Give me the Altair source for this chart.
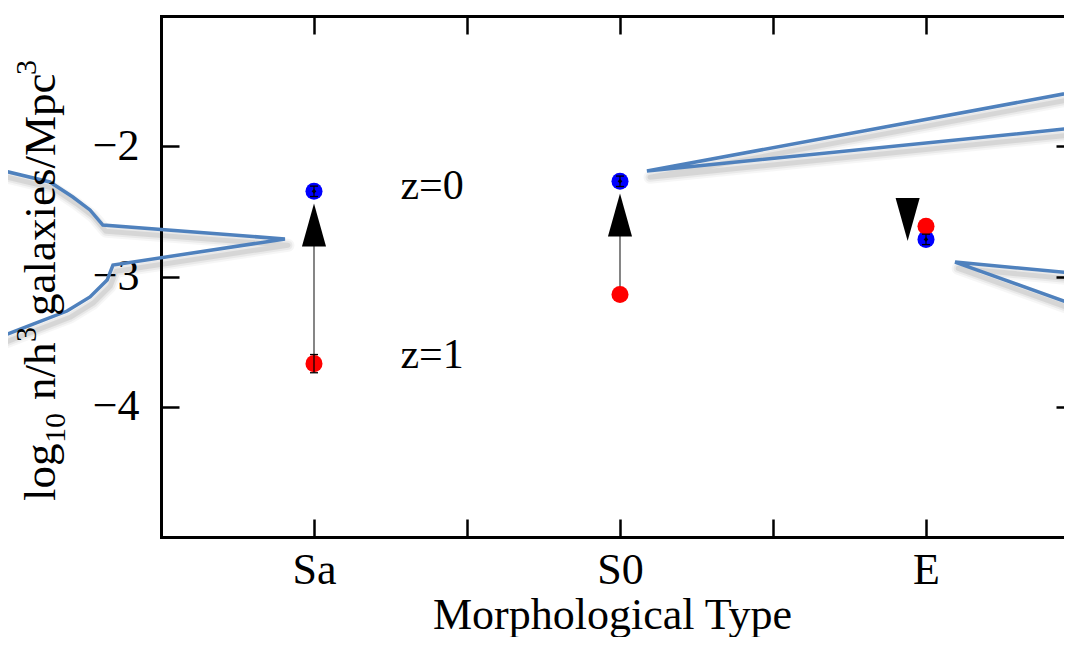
import altair as alt
import pandas as pd

# ---------------- values ----------------
types = ["Sa", "S0", "E"]
type_pos = [1, 2, 3]
logn_z0 = [-2.346, -2.269, -2.715]      # blue, z=0
logn_z1 = [-3.669, -3.138, -2.615]      # red, z=1
err_z0 = [0.04, 0.04, 0.04]
err_z1 = [0.07, 0.0, 0.0]

arrow_x = [1.0, 2.0, 2.94]
arrow_tail = [-3.669, -3.138, -2.562]
arrow_head = [-2.604, -2.527, -2.562]
arrow_dir = ["up", "up", "down"]

z_text = ["z=0", "z=1"]
z_x = [1.386, 1.386]
z_y = [-2.405, -3.703]

# callout outlines (data coordinates)
call_left_x = [-0.026, 0.137, 0.212, 0.268, 0.310, 0.905, 0.343, 0.324, 0.268, 0.193, 0.082, -0.026]
call_left_y = [-2.182, -2.274, -2.390, -2.489, -2.605, -2.712, -2.912, -3.027, -3.157, -3.265, -3.365, -3.464]
call_tr_x = [3.520, 2.088, 3.520]
call_tr_y = [-1.568, -2.190, -1.852]
call_br_x = [3.520, 3.095, 3.520]
call_br_y = [-2.982, -2.889, -3.247]

x_ticks = [1, 1.5, 2, 2.5, 3]
y_ticks = [-4, -3, -2]
x_title = "Morphological Type"

FONT = "Liberation Serif"
BLUE_LINE = "#4f81bd"

# ---------------- tables ----------------
pts = pd.DataFrame({
    "pos": type_pos + type_pos,
    "logn": logn_z0 + logn_z1,
    "err": err_z0 + err_z1,
    "z": ["z=0"] * 3 + ["z=1"] * 3,
})
pts["lo"] = pts["logn"] - pts["err"]
pts["hi"] = pts["logn"] + pts["err"]
errs = pts[pts["err"] > 0]
centers = pts[pts["z"] == "z=0"]

arrows = pd.DataFrame({"ax": arrow_x, "tail": arrow_tail, "head": arrow_head, "dir": arrow_dir})
stems = arrows[arrows["dir"] == "up"]

rows = []
for name, xs, ys in [("left", call_left_x, call_left_y), ("tr", call_tr_x, call_tr_y), ("br", call_br_x, call_br_y)]:
    for i, (a, b) in enumerate(zip(xs, ys)):
        rows.append({"shape": name, "ord": i, "cx": a, "cy": b})
calls = pd.DataFrame(rows)
calls["sx"] = calls["cx"] + 0.010
calls["sy"] = calls["cy"] - 0.048

zl = pd.DataFrame({"zt": z_text, "zx": z_x, "zy": z_y})

# plot area is 903 px wide at 306 px per type -> the right frame edge falls just off the page
x_sc = alt.Scale(domain=[0.5, 3.451], nice=False, zero=False)
y_sc = alt.Scale(domain=[-5, -1], nice=False, zero=False)

label_expr = " : ".join(
    f"datum.value == {p} ? '{t}'" for p, t in zip(type_pos, types)
) + " : ''"

tick_axis = dict(tickSize=18, offset=-18, domain=False, grid=False, tickColor="black",
                 tickWidth=2.5, title=None)
frame_axis = dict(domain=True, domainColor="black", domainWidth=3, domainCap="square",
                  ticks=False, labels=False, grid=False, title=None, offset=0)

bottom_axis = alt.Axis(orient="bottom", values=x_ticks, labelExpr=label_expr,
                       labelFont=FONT, labelFontSize=44, labelColor="black", labelPadding=11,
                       labelOverlap=False, labelFlush=False,
                       tickSize=18, offset=-18, domain=False, grid=False, tickColor="black",
                       tickWidth=2.5,
                       title=x_title, titleFont=FONT, titleFontSize=44, titleFontWeight="normal",
                       titleColor="black", titleX=451, titleY=109, titleBaseline="alphabetic",
                       titleAlign="center")
left_axis = alt.Axis(orient="left", values=y_ticks, labelFont=FONT, labelFontSize=44,
                     labelColor="black", labelPadding=22, labelOverlap=False, labelFlush=False,
                     **tick_axis)
top_axis = alt.Axis(orient="top", values=x_ticks, labels=False, **tick_axis)
right_axis = alt.Axis(orient="right", values=y_ticks, labels=False, tickSize=8, offset=-8,
                      domain=False, grid=False, tickColor="black", tickWidth=2.5, title=None)

frame_bottom = alt.Axis(orient="bottom", **frame_axis)
frame_left = alt.Axis(orient="left", **frame_axis)
frame_top = alt.Axis(orient="top", **frame_axis)

layers = []

# callout shadows (soft, offset down-right); first two also carry the frame lines
shadow_axes = [(frame_bottom, frame_left), (frame_top, None), (None, None)]
for (w, op), (ax_x, ax_y) in zip([(13, 0.035), (9, 0.05), (5, 0.08)], shadow_axes):
    layers.append(
        alt.Chart(calls).mark_line(color="black", strokeWidth=w, opacity=op, strokeJoin="round")
        .encode(x=alt.X("sx:Q", scale=x_sc, axis=ax_x), y=alt.Y("sy:Q", scale=y_sc, axis=ax_y),
                detail="shape:N", order="ord:Q")
    )
# callouts
layers.append(
    alt.Chart(calls).mark_line(color=BLUE_LINE, strokeWidth=3.5)
    .encode(x=alt.X("cx:Q", scale=x_sc, axis=None), y=alt.Y("cy:Q", scale=y_sc, axis=None),
            detail="shape:N", order="ord:Q")
)
# arrow stems (carries the top/right tick axes)
layers.append(
    alt.Chart(stems).mark_rule(color="#444444", strokeWidth=1.3)
    .encode(x=alt.X("ax:Q", scale=x_sc, axis=top_axis),
            y=alt.Y("tail:Q", scale=y_sc, axis=right_axis), y2="head:Q")
)
# arrow heads
layers.append(
    alt.Chart(arrows[arrows["dir"] == "up"])
    .mark_point(shape="M0,-1L0.56,1L-0.56,1Z", filled=True, size=1849, color="black",
                opacity=1, strokeWidth=0)
    .encode(x=alt.X("ax:Q", scale=x_sc, axis=None), y=alt.Y("head:Q", scale=y_sc, axis=None))
)
layers.append(
    alt.Chart(arrows[arrows["dir"] == "down"])
    .mark_point(shape="M0,1L0.56,-1L-0.56,-1Z", filled=True, size=1849, color="black",
                opacity=1, strokeWidth=0)
    .encode(x=alt.X("ax:Q", scale=x_sc, axis=None), y=alt.Y("head:Q", scale=y_sc, axis=None))
)
# data points (carries bottom/left tick axes)
layers.append(
    alt.Chart(pts).mark_circle(size=290, opacity=1)
    .encode(x=alt.X("pos:Q", scale=x_sc, axis=bottom_axis),
            y=alt.Y("logn:Q", scale=y_sc, axis=left_axis),
            color=alt.Color("z:N", scale=alt.Scale(domain=["z=0", "z=1"], range=["#0000ff", "#ff0000"]),
                            legend=None))
)
# error bars
layers.append(
    alt.Chart(errs).mark_rule(color="black", strokeWidth=1.2)
    .encode(x=alt.X("pos:Q", scale=x_sc, axis=None), y=alt.Y("lo:Q", scale=y_sc, axis=None), y2="hi:Q")
)
for col in ["lo", "hi"]:
    layers.append(
        alt.Chart(errs).mark_tick(orient="horizontal", color="black", size=8, thickness=1.3, opacity=1)
        .encode(x=alt.X("pos:Q", scale=x_sc, axis=None), y=alt.Y(f"{col}:Q", scale=y_sc, axis=None))
    )
layers.append(
    alt.Chart(centers).mark_point(shape="diamond", filled=True, color="black", size=22, opacity=1)
    .encode(x=alt.X("pos:Q", scale=x_sc, axis=None), y=alt.Y("logn:Q", scale=y_sc, axis=None))
)
# z labels
layers.append(
    alt.Chart(zl).mark_text(font=FONT, fontSize=42, align="center", baseline="alphabetic", color="black")
    .encode(x=alt.X("zx:Q", scale=x_sc, axis=None), y=alt.Y("zy:Q", scale=y_sc, axis=None), text="zt:N")
)

# y-axis title built from pieces (subscript / superscripts)
title_parts = [
    ("log", 45, -106, 485),
    ("10", 30, -96, 427),
    ("n/h", 45, -106, 384),
    ("3", 30, -125, 326),
    ("galaxies/Mpc", 45, -106, 300),
    ("3", 30, -125, 59),
]
for txt, fs, px, py in title_parts:
    layers.append(
        alt.Chart(pd.DataFrame({"t": [txt]}))
        .mark_text(font=FONT, fontSize=fs, angle=270, align="left", baseline="alphabetic", color="black")
        .encode(x=alt.value(px), y=alt.value(py), text="t:N")
    )

chart = (
    alt.layer(*layers)
    .resolve_axis(x="independent", y="independent")
    .properties(width=903, height=521,
                padding={"left": 153, "top": 8, "right": 0, "bottom": 100},
                autosize=alt.AutoSizeParams(type="none"))
    .configure_view(strokeWidth=0)
)

chart.save("out.html", embed_options={"renderer": "svg", "actions": False})
